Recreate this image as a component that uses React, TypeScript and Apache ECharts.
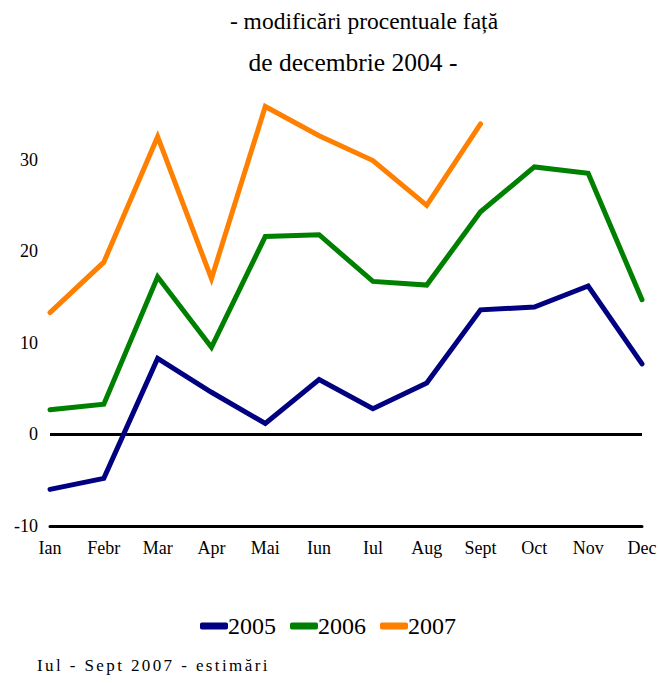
import React, { useEffect, useRef } from "react";
import * as echarts from "echarts";

const months = ["Ian", "Febr", "Mar", "Apr", "Mai", "Iun", "Iul", "Aug", "Sept", "Oct", "Nov", "Dec"];
const s2005 = [-6.0, -4.8, 8.3, 4.6, 1.2, 6.0, 2.8, 5.6, 13.6, 13.9, 16.2, 7.7];
const s2006 = [2.7, 3.3, 17.2, 9.5, 21.6, 21.8, 16.7, 16.3, 24.3, 29.2, 28.5, 14.7];
const s2007 = [13.3, 18.8, 32.5, 17.0, 35.8, 32.6, 29.9, 25.0, 33.9];
const seriesNames = ["2005", "2006", "2007"];
const colors = ["#000080", "#008000", "#FF8000"];
const titleLines = ["- modificări procentuale față", "de decembrie 2004 -"];
const note = "Iul - Sept 2007 - estimări";

const FONT = "'Liberation Serif', 'Times New Roman', Times, serif";

export default function App() {
  const ref = useRef<HTMLDivElement>(null);
  useEffect(() => {
    document.body.style.margin = "0";
    if (!ref.current) return;
    const chart = echarts.init(ref.current, null, { renderer: "svg" });
    const data = [s2005, s2006, s2007];
    chart.setOption({
      animation: false,
      backgroundColor: "#fff",
      textStyle: { fontFamily: FONT },
      grid: { left: 50, right: 18, top: 68, bottom: 158, containLabel: false },
      graphic: [
        { type: "text", x: 364, y: 21, style: { text: titleLines[0], fontFamily: FONT, fontSize: 23.5, fill: "#000", textAlign: "center", textVerticalAlign: "middle" } },
        { type: "text", x: 353, y: 62, style: { text: titleLines[1], fontFamily: FONT, fontSize: 25.5, fill: "#000", textAlign: "center", textVerticalAlign: "middle" } },
      ],
      legend: {
        data: seriesNames,
        left: 200,
        top: 614,
        padding: 0,
        icon: "roundRect",
        itemWidth: 28,
        itemHeight: 7,
        itemGap: 14,
        textStyle: { fontFamily: FONT, fontSize: 24, color: "#000", padding: [0, 0, 0, -5] },
      },
      xAxis: {
        type: "category",
        data: months,
        boundaryGap: false,
        axisLine: { onZero: false, lineStyle: { color: "#000", width: 3 } },
        axisTick: { show: false },
        axisLabel: { fontFamily: FONT, fontSize: 18, color: "#000", margin: 13, interval: 0 },
        splitLine: { show: false },
      },
      yAxis: {
        type: "value",
        min: -10,
        max: 40,
        interval: 10,
        axisLine: { show: false },
        axisTick: { show: false },
        splitLine: { show: false },
        axisLabel: {
          fontFamily: FONT,
          fontSize: 18,
          color: "#000",
          margin: 12,
          formatter: (v: number) => (v === 40 ? "" : String(v)),
        },
      },
      series: data.map((d, i) => ({
        name: seriesNames[i],
        type: "line",
        data: d,
        symbol: "none",
        lineStyle: { color: colors[i], width: 5, cap: "round", join: "miter" },
        itemStyle: { color: colors[i] },
        z: 3 + i,
        markLine:
          i === 0
            ? {
                silent: true,
                symbol: "none",
                label: { show: false },
                lineStyle: { color: "#000", width: 3, type: "solid" },
                data: [{ yAxis: 0 }],
                z: 1,
              }
            : undefined,
      })),
    });
    return () => chart.dispose();
  }, []);
  return (
    <div style={{ position: "relative", width: 660, height: 684 }}>
      <div ref={ref} style={{ width: 660, height: 684 }} />
      <div
        style={{
          position: "absolute",
          left: 37,
          top: 655,
          fontFamily: FONT,
          fontSize: 17,
          letterSpacing: "2.4px",
          color: "#000",
          whiteSpace: "nowrap",
          lineHeight: "22px",
        }}
      >
        {note}
      </div>
    </div>
  );
}
